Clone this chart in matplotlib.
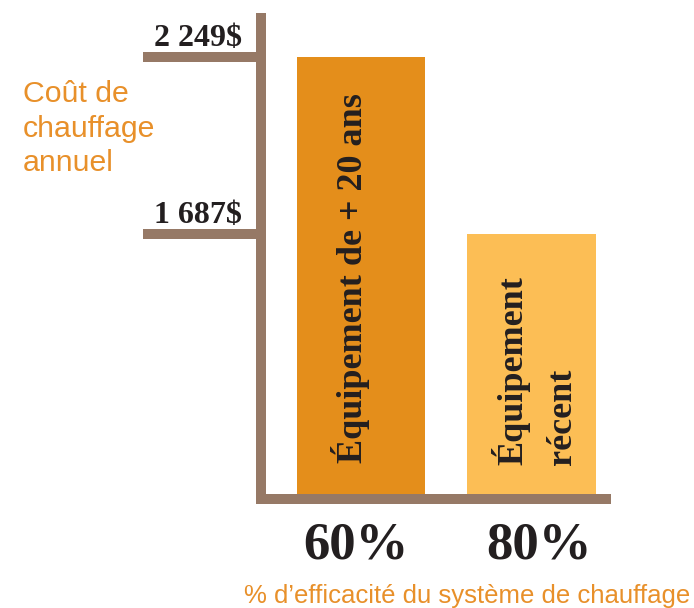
import matplotlib
matplotlib.use("Agg")
import matplotlib.pyplot as plt
import numpy as np

# data
categories = ['Équipement de + 20 ans', 'Équipement\nrécent']
efficiency = ['60%', '80%']
cost = [2249, 1687]
cost_labels = ['2 249$', '1 687$']

brown = '#967966'
orange_text = '#E8902A'
bar_colors = ['#E48E1B', '#FCBE55']
dark = '#231F20'

fig = plt.figure(figsize=(6.94, 6.08), dpi=100)
ax = fig.add_axes([0.3757, 0.1793, 0.4975, 0.7906])

x = np.arange(len(cost))
ax.bar(x, cost, width=0.755, color=bar_colors, zorder=1)

ax.set_xlim(-0.587, 1.435)
ax.set_ylim(845.6, 2371.9)

for s in ['top', 'right']:
    ax.spines[s].set_visible(False)
for s in ['left', 'bottom']:
    ax.spines[s].set_color(brown)
    ax.spines[s].set_linewidth(7.2)
    ax.spines[s].set_capstyle('projecting')
    ax.spines[s].set_zorder(3)

# y ticks drawn as long brown bars, labels placed above them
ax.set_yticks(cost)
ax.set_yticklabels([])
ax.tick_params(axis='y', length=85, width=7.2, color=brown, direction='out')
for v, lab in zip(cost, cost_labels):
    ax.annotate(lab, (0, v), xycoords=('axes fraction', 'data'),
                xytext=(-13.5, 8), textcoords='offset points',
                ha='right', va='baseline', fontsize=23,
                family='Liberation Serif', fontweight='bold', color=dark)

# percentage labels sit slightly off the bar centres in the original
ax.set_xticks(x + np.array([-0.03, 0.04]))
ax.set_xticklabels(efficiency, family='Liberation Serif', fontweight='bold',
                   fontsize=38, color=dark)
ax.tick_params(axis='x', length=0, pad=16)

# text inside the bars
ax.text(x[0] - 0.064, 960, categories[0], rotation=90, ha='center', va='bottom',
        family='Liberation Serif', fontweight='bold', fontsize=26, color=dark)
ax.text(x[1] + 0.02, 954, categories[1], rotation=90, ha='center', va='bottom',
        multialignment='left', linespacing=1.63,
        family='Liberation Serif', fontweight='bold', fontsize=26, color=dark)

fig.text(23 / 694, 1 - 80 / 608, 'Coût de\nchauffage\nannuel', ha='left', va='top',
         family='Liberation Sans', fontsize=21.8, color=orange_text, linespacing=1.3)
fig.text(244 / 694, 1 - 603.3 / 608, '% d’efficacité du système de chauffage',
         ha='left', va='baseline', family='Liberation Sans', fontsize=18.5,
         color=orange_text)

fig.savefig('out.png', dpi=100, facecolor='white')
